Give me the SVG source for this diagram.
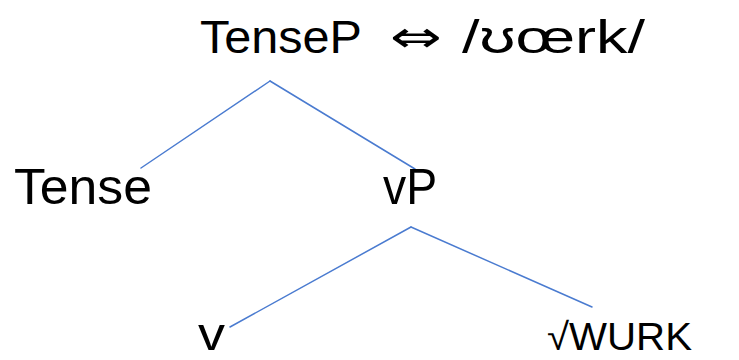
<svg xmlns="http://www.w3.org/2000/svg" width="739" height="360" viewBox="0 0 739 360">
<style>
.t{font-family:"Liberation Sans","DejaVu Sans",sans-serif;fill:#000;}
.a{font-family:"DejaVu Sans",sans-serif;fill:#000;}
.e{stroke:#4a7bd0;stroke-width:1.5;fill:none;stroke-linecap:round;}
</style>
<rect width="739" height="360" fill="#fff"/>
<g id="connectors">
<line class="e" x1="270" y1="81" x2="141" y2="168"/>
<line class="e" x1="270" y1="81" x2="415" y2="169"/>
<line class="e" x1="411" y1="227" x2="230" y2="327"/>
<line class="e" x1="411" y1="227" x2="592" y2="307"/>
</g>
<g id="tensep">
<text class="t" x="200" y="53" font-size="46" textLength="162" lengthAdjust="spacingAndGlyphs">TenseP</text>
<text class="a" x="390" y="52" font-size="44" textLength="52" lengthAdjust="spacingAndGlyphs">⇔</text>
<text class="t" x="462" y="53" font-size="46" textLength="183" lengthAdjust="spacingAndGlyphs">/ʊœrk/</text>
</g>
<g id="tense"><text class="t" x="14" y="204" font-size="50" textLength="138" lengthAdjust="spacingAndGlyphs">Tense</text></g>
<g id="vp"><text class="t" x="383" y="204" font-size="50" textLength="54" lengthAdjust="spacingAndGlyphs">vP</text></g>
<g id="v"><text class="t" x="198" y="350" font-size="46" textLength="27" lengthAdjust="spacingAndGlyphs">v</text></g>
<g id="root"><text class="t" x="547" y="350" font-size="38" textLength="145" lengthAdjust="spacingAndGlyphs">√WURK</text></g>
</svg>
